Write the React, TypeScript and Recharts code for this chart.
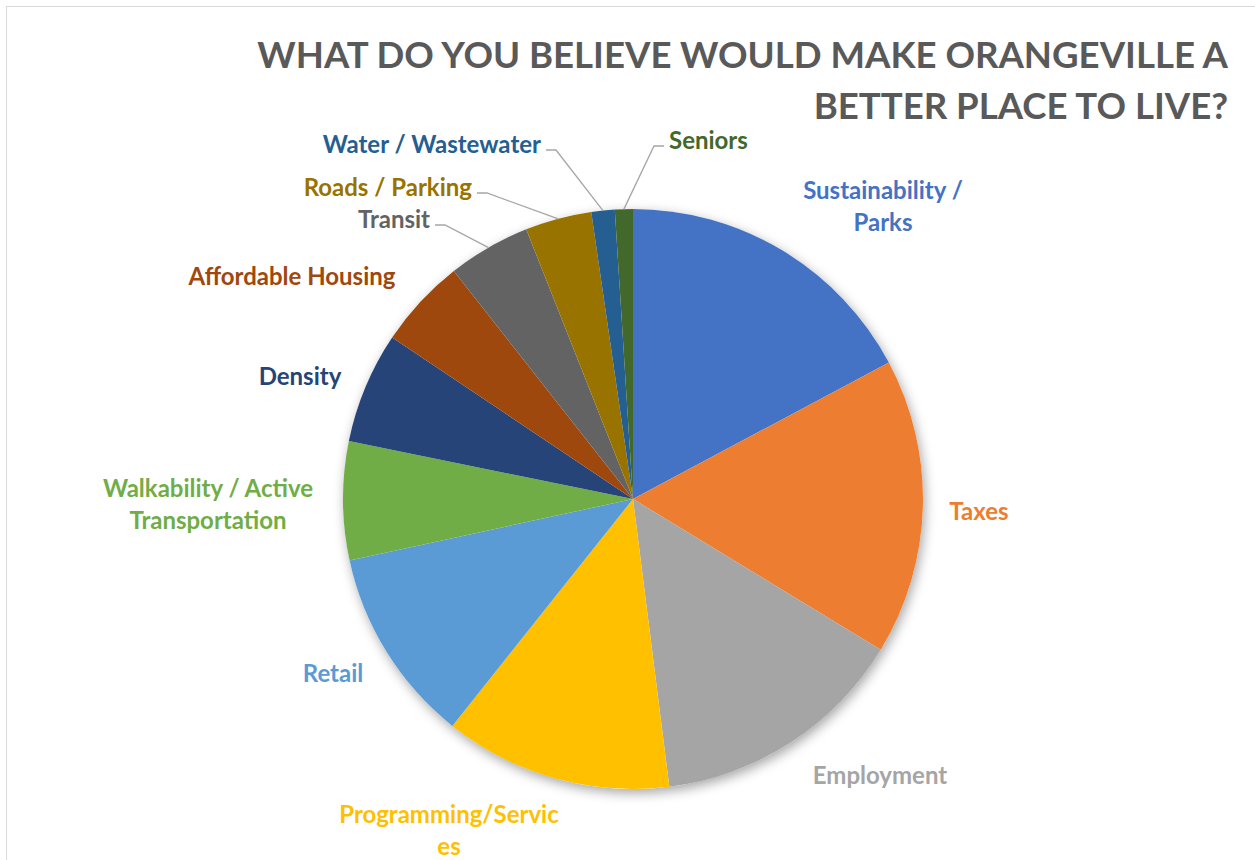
import { PieChart, Pie, Cell } from 'recharts';

// categories, clockwise from 12 o'clock
const CATEGORIES = [
  'Sustainability / Parks',
  'Taxes',
  'Employment',
  'Programming/Services',
  'Retail',
  'Walkability / Active Transportation',
  'Density',
  'Affordable Housing',
  'Transit',
  'Roads / Parking',
  'Water / Wastewater',
  'Seniors',
];

// share of responses (%)
const SHARES = [17.2, 16.5, 14.3, 12.7, 10.9, 6.6, 6.2, 5.0, 4.6, 3.7, 1.3, 1.0];

const COLORS = [
  '#4472C4',
  '#ED7D31',
  '#A5A5A5',
  '#FFC000',
  '#5B9BD5',
  '#70AD47',
  '#264478',
  '#9E480E',
  '#636363',
  '#997300',
  '#255E91',
  '#43682B',
];

const TITLE_LINES = ['WHAT DO YOU BELIEVE WOULD MAKE ORANGEVILLE A', 'BETTER PLACE TO LIVE?'];

// label placement, offsets from the pie centre (Excel moved some of these by hand)
type LabelLayout = {
  dx: number;
  dy: number;
  lines: string[];
  anchor: 'start' | 'middle' | 'end';
  leader?: boolean;
};

const LABEL_LAYOUT: Record<string, LabelLayout> = {
  'Sustainability / Parks': { dx: 250, dy: -294, lines: ['Sustainability /', 'Parks'], anchor: 'middle' },
  Taxes: { dx: 346, dy: 11, lines: ['Taxes'], anchor: 'middle' },
  Employment: { dx: 247, dy: 275, lines: ['Employment'], anchor: 'middle' },
  'Programming/Services': { dx: -184, dy: 330, lines: ['Programming/Servic', 'es'], anchor: 'middle' },
  Retail: { dx: -300, dy: 173, lines: ['Retail'], anchor: 'middle' },
  'Walkability / Active Transportation': {
    dx: -425,
    dy: 4,
    lines: ['Walkability / Active', 'Transportation'],
    anchor: 'middle',
  },
  Density: { dx: -333, dy: -124, lines: ['Density'], anchor: 'middle' },
  'Affordable Housing': { dx: -341, dy: -224, lines: ['Affordable Housing'], anchor: 'middle' },
  Transit: { dx: -203, dy: -281, lines: ['Transit'], anchor: 'end', leader: true },
  'Roads / Parking': { dx: -161, dy: -313, lines: ['Roads / Parking'], anchor: 'end', leader: true },
  'Water / Wastewater': { dx: -92, dy: -356, lines: ['Water / Wastewater'], anchor: 'end', leader: true },
  Seniors: { dx: 36, dy: -360, lines: ['Seniors'], anchor: 'start', leader: true },
};

const chartData = CATEGORIES.map((name, i) => ({ name, value: SHARES[i] }));
const backdrop = [{ name: 'backdrop', value: 1 }];

const RAD = Math.PI / 180;
const FONT = 'Lato, "Open Sans", sans-serif';

function renderLabel(props: any) {
  const { cx, cy, midAngle, outerRadius, index } = props;
  const name = CATEGORIES[index];
  const layout = LABEL_LAYOUT[name];
  if (!layout) return null;
  const color = COLORS[index];
  const x = cx + layout.dx;
  const y = cy + layout.dy;
  const lineGap = 32;
  const firstY = y - ((layout.lines.length - 1) * lineGap) / 2;

  let leader = null;
  if (layout.leader) {
    const ex = cx + outerRadius * Math.cos(-midAngle * RAD);
    const ey = cy + outerRadius * Math.sin(-midAngle * RAD);
    const side = layout.anchor === 'end' ? 1 : -1;
    const lx = x + side * 5;
    const ly = y + 7;
    const kx = lx + side * 10;
    leader = (
      <polyline
        points={`${lx},${ly} ${kx},${ly} ${ex},${ey}`}
        fill="none"
        stroke="#A6A6A6"
        strokeWidth={1.3}
      />
    );
  }

  return (
    <g key={`label-${index}`}>
      {leader}
      {layout.lines.map((line, li) => (
        <text
          key={li}
          x={x}
          y={firstY + li * lineGap}
          textAnchor={layout.anchor}
          dominantBaseline="central"
          fill={color}
          fontFamily={FONT}
          fontWeight={700}
          fontSize={24}
        >
          {line}
        </text>
      ))}
    </g>
  );
}

export default function App() {
  return (
    <div
      style={{
        position: 'fixed',
        left: 0,
        top: 0,
        width: 1255,
        height: 860,
        overflow: 'hidden',
        background: '#ffffff',
        fontFamily: FONT,
      }}
    >
      {/* chart area frame, runs off the right and bottom edges */}
      <div
        style={{
          position: 'absolute',
          left: 6,
          top: 6,
          width: 1300,
          height: 900,
          borderTop: '1.5px solid #D9D9D9',
          borderLeft: '1.5px solid #D9D9D9',
        }}
      />

      <div
        style={{
          position: 'absolute',
          right: 27,
          top: 29,
          textAlign: 'right',
          color: '#595959',
          fontWeight: 700,
          fontSize: 36.6,
          lineHeight: '51px',
          whiteSpace: 'nowrap',
        }}
      >
        {TITLE_LINES.map((line) => (
          <div key={line}>{line}</div>
        ))}
      </div>

      <div style={{ position: 'absolute', left: 0, top: 0 }}>
        <PieChart width={1255} height={860} margin={{ top: 0, right: 0, bottom: 0, left: 0 }}>
          {/* soft shadow under the pie */}
          <Pie
            data={backdrop}
            dataKey="value"
            cx={633}
            cy={499}
            outerRadius={290}
            stroke="none"
            isAnimationActive={false}
          >
            <Cell
              fill="#ffffff"
              style={{ filter: 'drop-shadow(2px 4px 6px rgba(0,0,0,0.35))' }}
            />
          </Pie>
          <Pie
            data={chartData}
            dataKey="value"
            nameKey="name"
            cx={633}
            cy={499}
            outerRadius={290}
            startAngle={90}
            endAngle={-270}
            stroke="none"
            label={renderLabel}
            labelLine={false}
            isAnimationActive={false}
          >
            {chartData.map((d, i) => (
              <Cell key={d.name} fill={COLORS[i]} />
            ))}
          </Pie>
        </PieChart>
      </div>
    </div>
  );
}
